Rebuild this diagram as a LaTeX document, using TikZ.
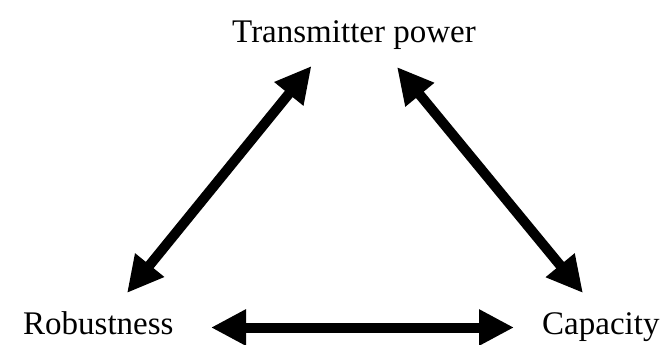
\documentclass[tikz,border=0pt]{standalone}
\usepackage{fontspec}
\setmainfont{Liberation Serif}
\usetikzlibrary{arrows.meta}
\begin{document}
\begin{tikzpicture}[x=1pt,y=-1pt,
  lbl/.style={inner sep=0pt,font=\fontsize{33}{36}\selectfont},
  dbl/.style={line width=10pt,{Triangle[length=36pt,width=35pt]}-{Triangle[length=36pt,width=35pt]}},
  dblh/.style={line width=10pt,{Triangle[length=35pt,width=34pt]}-{Triangle[length=35pt,width=34pt]}}]
\useasboundingbox[fill=white] (0,0) rectangle (662,345);
\node[lbl,anchor=base] (tp) at (354,43) {Transmitter power};
\node[lbl,anchor=base west] (rb) at (23,334) {Robustness};
\node[lbl,anchor=base west] (cp) at (542,334) {Capacity};
\coordinate (lb) at (127,293);
\coordinate (lt) at (311.5,66);
\coordinate (rt) at (397,67);
\coordinate (rbt) at (583,293);
\coordinate (bl) at (211,327.5);
\coordinate (br) at (514,327.5);
\draw[dbl] (lb) -- (lt);
\draw[dbl] (rt) -- (rbt);
\draw[dblh] (bl) -- (br);
\end{tikzpicture}
\end{document}
